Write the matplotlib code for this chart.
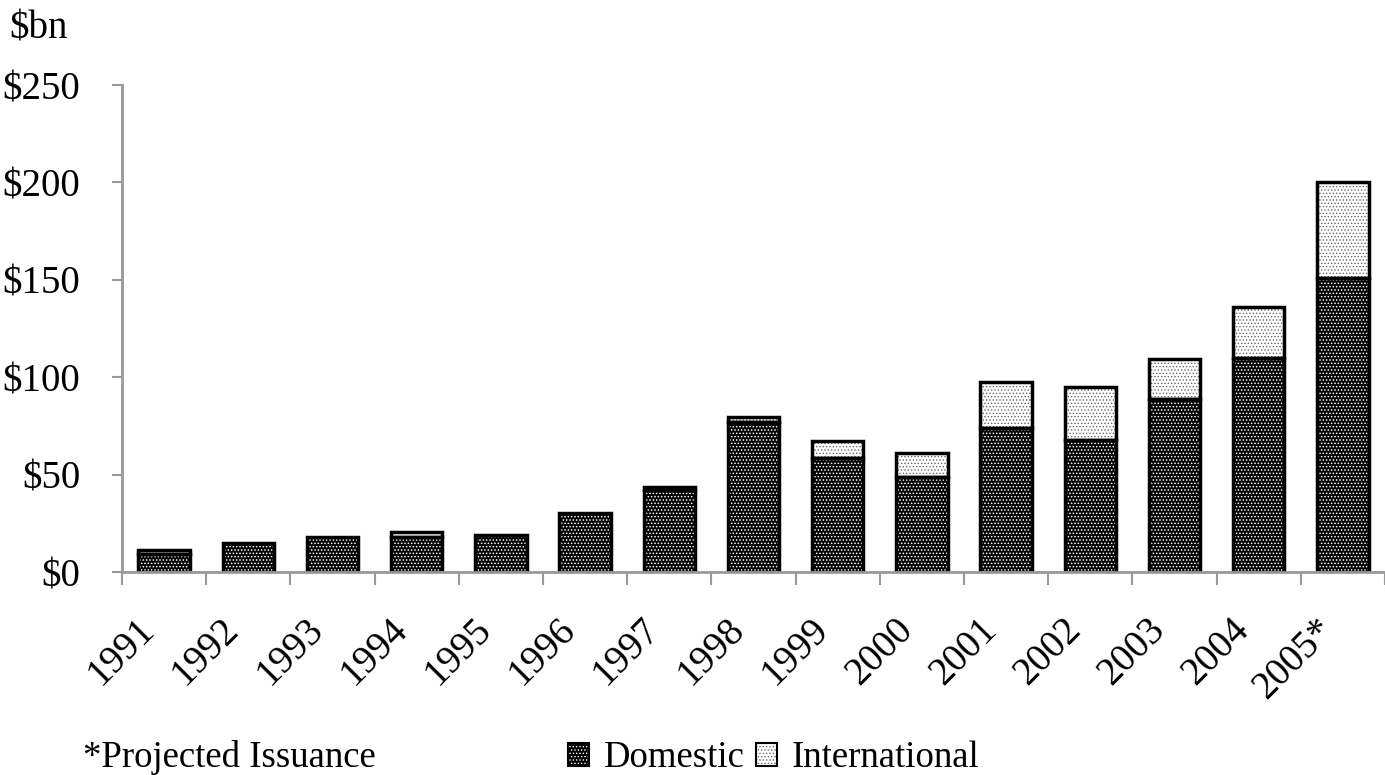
import matplotlib
matplotlib.use("Agg")
import matplotlib.pyplot as plt
import matplotlib.transforms as mtransforms
from matplotlib.patches import Patch
from matplotlib.legend_handler import HandlerTuple

years = ["1991", "1992", "1993", "1994", "1995", "1996", "1997", "1998",
         "1999", "2000", "2001", "2002", "2003", "2004", "2005*"]
domestic = [9.5, 15, 18, 18, 19, 30.5, 42, 77, 58.5, 49, 74, 68, 89, 110, 151]
international = [1.8, 0, 0, 2.5, 0, 0, 1.8, 2.5, 9, 12, 23.5, 27, 20.5, 26, 49]
yticks = [0, 50, 100, 150, 200, 250]
ytick_labels = ["$0", "$50", "$100", "$150", "$200", "$250"]

plt.rcParams['font.family'] = ['Liberation Serif', 'DejaVu Serif']

fig = plt.figure(figsize=(13.85, 7.75), dpi=100)
ax = fig.add_axes([0.0881, 0.2619, 0.9119, 0.6284])

x = list(range(len(years)))
w = 0.61
DOM_HATCH = '.....'
INT_HATCH = '.....'

# domestic: black face with small white dots
plt.rcParams['hatch.linewidth'] = 0.7
ax.bar(x, domestic, width=w, color='black', edgecolor='white', hatch=DOM_HATCH, linewidth=0, zorder=2)
dom_handle = Patch(facecolor='black', edgecolor='white', hatch=DOM_HATCH, linewidth=0)
# international: white face with fine gray dots
plt.rcParams['hatch.linewidth'] = 0.6
ax.bar(x, international, bottom=domestic, width=w, color='white', edgecolor='#666666', hatch=INT_HATCH,
       linewidth=0, zorder=2)
int_handle = Patch(facecolor='white', edgecolor='#666666', hatch=INT_HATCH, linewidth=0)

ax.bar(x, domestic, width=w, fill=False, edgecolor='black', linewidth=2.5, zorder=3)
for xi, d, i in zip(x, domestic, international):
    if i > 0:
        ax.bar(xi, i, bottom=d, width=w, fill=False, edgecolor='black', linewidth=2.5, zorder=3)

ax.set_xlim(-0.5, len(years) - 0.5)
ax.set_ylim(0, 250)
ax.set_yticks(yticks)
ax.set_yticklabels(ytick_labels, fontsize=28)
ax.set_xticks([i - 0.5 for i in range(len(years) + 1)])
ax.set_xticklabels([])
ax.tick_params(axis='x', length=9, width=1.5, color='#999999', direction='out')
ax.tick_params(axis='y', length=7, width=1.5, color='#999999', pad=23)

# category labels, rotated 45 degrees
blend = mtransforms.blended_transform_factory(ax.transData, ax.transAxes)
offset = mtransforms.ScaledTranslation(-0.28, -0.39, fig.dpi_scale_trans)
for xi, lab in zip(x, years):
    ax.text(xi, 0, lab, transform=blend + offset, rotation=45, ha='right', va='top',
            rotation_mode='anchor', fontsize=28, clip_on=False)

for s in ['top', 'right']:
    ax.spines[s].set_visible(False)
for s in ['left', 'bottom']:
    ax.spines[s].set_color('#999999')
    ax.spines[s].set_linewidth(2)
ax.spines['bottom'].set_zorder(4)

fig.text(0.007, 0.963, "$bn", fontsize=28, ha='left', va='center')
fig.text(0.06, 0.022, "*Projected Issuance", fontsize=26.5, ha='left', va='center')

outline1 = Patch(fill=False, edgecolor='black', linewidth=1.5)
outline2 = Patch(fill=False, edgecolor='black', linewidth=1.5)
leg = fig.legend([(dom_handle, outline1), (int_handle, outline2)], ["Domestic", "International"],
                 ncol=2, loc='center left', bbox_to_anchor=(0.410, 0.022), frameon=False, fontsize=26.5,
                 handler_map={tuple: HandlerTuple(ndivide=1)},
                 handlelength=0.58, handleheight=0.58, handletextpad=0.4, columnspacing=0.3,
                 borderpad=0, borderaxespad=0)

fig.savefig("out.png", dpi=100)
